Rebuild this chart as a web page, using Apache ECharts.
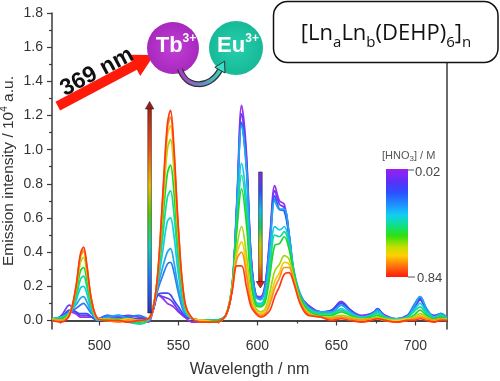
<!DOCTYPE html>
<html>
<head>
<meta charset="utf-8">
<script src="https://cdn.jsdelivr.net/npm/echarts@6/dist/echarts.min.js"></script>
<style>
  html, body { margin: 0; padding: 0; background: #fff; }
  #chart { width: 500px; height: 381px; }
</style>
</head>
<body>
<div id="chart"></div>
<script>
// wavelength grid (nm), shared by every spectrum
const wavelength = [470, 476, 481, 485, 488, 490, 492, 495, 499, 505, 512, 518, 525, 531, 534, 537, 540, 543, 545, 547,
  550, 554, 559, 566, 574, 580, 584, 587, 590, 593, 596, 599, 602, 605, 608, 611, 614, 617, 620, 623,
  627, 632, 640, 647, 653, 659, 666, 672, 676, 681, 688, 695, 699, 703, 707, 712, 716, 720];

// emission intensity / 10^4 a.u., from low [HNO3] (0.02 M) to high (0.84 M)
const s01 = [0.01, 0.02, 0.05, 0.04, 0.02, 0.02, 0.02, 0.02, 0.00, 0.01, 0.02, 0.01, 0.00, -0.01, 0.06, 0.15, 0.13, 0.10, 0.09, 0.08,
  0.05, 0.02, -0.01, -0.01, 0.00, 0.03, 0.19, 0.70, 1.26, 0.99, 0.38, 0.15, 0.14, 0.22, 0.51, 0.79, 0.70, 0.68, 0.51, 0.28,
  0.15, 0.09, 0.05, 0.06, 0.11, 0.06, 0.03, 0.04, 0.06, 0.03, 0.01, 0.03, 0.07, 0.12, 0.06, 0.02, 0.04, 0.01];
const s02 = [0.00, 0.03, 0.09, 0.05, 0.03, 0.03, 0.03, 0.02, 0.01, 0.03, 0.02, 0.03, 0.02, 0.01, 0.06, 0.15, 0.14, 0.13, 0.12, 0.10,
  0.06, 0.02, 0.01, 0.00, 0.00, 0.03, 0.19, 0.68, 1.21, 0.96, 0.37, 0.15, 0.13, 0.21, 0.49, 0.76, 0.68, 0.66, 0.50, 0.28,
  0.15, 0.09, 0.05, 0.06, 0.11, 0.06, 0.02, 0.04, 0.06, 0.02, 0.01, 0.02, 0.07, 0.12, 0.06, 0.03, 0.04, 0.01];
const s03 = [0.01, 0.02, 0.06, 0.05, 0.04, 0.04, 0.04, 0.02, 0.00, 0.02, 0.03, 0.02, 0.01, 0.01, 0.06, 0.15, 0.16, 0.16, 0.15, 0.12,
  0.08, 0.03, 0.01, 0.00, -0.01, 0.03, 0.19, 0.66, 1.16, 0.92, 0.36, 0.14, 0.13, 0.20, 0.47, 0.73, 0.65, 0.64, 0.49, 0.27,
  0.15, 0.08, 0.05, 0.06, 0.10, 0.06, 0.02, 0.03, 0.07, 0.02, 0.00, 0.02, 0.08, 0.13, 0.06, 0.02, 0.03, 0.01];
const s04 = [0.00, 0.01, 0.05, 0.07, 0.09, 0.10, 0.08, 0.04, 0.01, 0.03, 0.01, 0.02, 0.03, 0.01, 0.07, 0.18, 0.26, 0.33, 0.34, 0.29,
  0.16, 0.04, 0.01, 0.00, 0.00, 0.03, 0.20, 0.67, 1.15, 0.91, 0.35, 0.14, 0.13, 0.19, 0.45, 0.71, 0.65, 0.65, 0.51, 0.29,
  0.15, 0.08, 0.05, 0.05, 0.09, 0.05, 0.01, 0.04, 0.06, 0.01, 0.00, 0.03, 0.09, 0.14, 0.07, 0.02, 0.03, 0.02];
const s05 = [0.01, 0.02, 0.05, 0.09, 0.13, 0.14, 0.11, 0.05, 0.00, 0.02, 0.03, 0.01, 0.00, 0.00, 0.07, 0.20, 0.31, 0.40, 0.42, 0.35,
  0.19, 0.05, 0.01, 0.00, 0.00, 0.03, 0.21, 0.68, 1.14, 0.89, 0.34, 0.14, 0.12, 0.19, 0.45, 0.70, 0.65, 0.65, 0.51, 0.30,
  0.16, 0.08, 0.05, 0.05, 0.09, 0.05, 0.02, 0.03, 0.06, 0.02, 0.01, 0.02, 0.08, 0.14, 0.07, 0.02, 0.04, 0.02];
const s06 = [0.00, 0.01, 0.04, 0.11, 0.19, 0.20, 0.16, 0.06, 0.01, 0.00, 0.01, -0.01, -0.02, 0.00, 0.07, 0.22, 0.40, 0.58, 0.60, 0.51,
  0.27, 0.06, 0.01, 0.00, 0.00, 0.03, 0.20, 0.59, 0.92, 0.71, 0.27, 0.11, 0.10, 0.15, 0.35, 0.55, 0.53, 0.55, 0.45, 0.28,
  0.14, 0.07, 0.04, 0.04, 0.07, 0.04, 0.02, 0.03, 0.05, 0.02, 0.01, 0.02, 0.06, 0.10, 0.05, 0.02, 0.03, 0.01];
const s07 = [0.01, 0.02, 0.04, 0.13, 0.24, 0.26, 0.20, 0.08, 0.01, 0.01, 0.00, 0.00, -0.02, 0.00, 0.07, 0.24, 0.48, 0.72, 0.76, 0.64,
  0.34, 0.08, 0.01, 0.00, 0.00, 0.03, 0.20, 0.56, 0.85, 0.64, 0.25, 0.10, 0.09, 0.13, 0.31, 0.50, 0.49, 0.52, 0.44, 0.28,
  0.14, 0.07, 0.04, 0.04, 0.06, 0.03, 0.01, 0.03, 0.04, 0.02, 0.00, 0.02, 0.05, 0.08, 0.04, 0.01, 0.03, 0.01];
const s08 = [0.00, 0.01, 0.04, 0.15, 0.29, 0.31, 0.24, 0.09, 0.01, 0.00, 0.01, 0.00, -0.01, 0.01, 0.08, 0.26, 0.57, 0.86, 0.91, 0.77,
  0.41, 0.09, 0.01, 0.00, 0.00, 0.03, 0.21, 0.53, 0.77, 0.57, 0.22, 0.09, 0.08, 0.11, 0.27, 0.44, 0.45, 0.49, 0.42, 0.28,
  0.14, 0.06, 0.03, 0.03, 0.05, 0.03, 0.01, 0.02, 0.03, 0.01, 0.00, 0.01, 0.03, 0.06, 0.03, 0.01, 0.02, 0.01];
const s09 = [0.01, 0.00, 0.04, 0.17, 0.34, 0.37, 0.28, 0.11, 0.01, 0.01, 0.00, 0.01, 0.00, 0.01, 0.07, 0.27, 0.64, 1.00, 1.06, 0.90,
  0.47, 0.10, 0.01, 0.00, -0.01, 0.03, 0.19, 0.43, 0.55, 0.39, 0.15, 0.07, 0.05, 0.07, 0.17, 0.29, 0.33, 0.38, 0.36, 0.25,
  0.12, 0.05, 0.02, 0.02, 0.03, 0.02, 0.01, 0.01, 0.02, 0.01, 0.00, 0.01, 0.02, 0.04, 0.02, 0.00, 0.01, 0.01];
const s10 = [0.00, 0.00, 0.04, 0.18, 0.37, 0.40, 0.31, 0.12, 0.01, 0.00, 0.00, 0.01, 0.00, 0.01, 0.07, 0.28, 0.68, 1.08, 1.14, 0.97,
  0.51, 0.11, 0.01, 0.00, -0.01, 0.03, 0.19, 0.39, 0.46, 0.32, 0.12, 0.05, 0.04, 0.06, 0.13, 0.23, 0.28, 0.34, 0.33, 0.24,
  0.11, 0.04, 0.02, 0.01, 0.02, 0.01, 0.00, 0.01, 0.01, 0.00, 0.00, 0.01, 0.01, 0.03, 0.01, 0.00, 0.01, 0.00];
const s11 = [0.00, 0.00, 0.03, 0.18, 0.38, 0.41, 0.32, 0.12, 0.01, 0.00, -0.01, 0.00, 0.00, 0.01, 0.07, 0.28, 0.70, 1.12, 1.19, 1.01,
  0.53, 0.11, 0.01, -0.01, -0.01, 0.03, 0.18, 0.36, 0.40, 0.27, 0.10, 0.05, 0.03, 0.04, 0.10, 0.19, 0.25, 0.31, 0.31, 0.23,
  0.11, 0.04, 0.02, 0.01, 0.02, 0.01, 0.00, 0.01, 0.01, 0.00, -0.01, 0.00, 0.01, 0.02, 0.01, 0.00, 0.01, 0.00];
const s12 = [0.00, -0.01, 0.03, 0.19, 0.39, 0.43, 0.33, 0.12, 0.01, 0.00, 0.00, -0.01, 0.00, 0.01, 0.07, 0.28, 0.72, 1.15, 1.23, 1.04,
  0.54, 0.11, 0.01, -0.01, -0.01, 0.03, 0.17, 0.32, 0.32, 0.20, 0.08, 0.04, 0.02, 0.03, 0.06, 0.14, 0.20, 0.27, 0.28, 0.22,
  0.10, 0.03, 0.02, 0.00, 0.01, 0.00, -0.01, 0.00, 0.01, 0.00, -0.01, 0.00, 0.00, 0.01, 0.00, -0.01, 0.00, 0.00];
const spectra = [s01, s02, s03, s04, s05, s06, s07, s08, s09, s10, s11, s12];

const lineColors = ['#9a2ff0', '#6a3cf5', '#3a4cf8', '#2f78f0', '#22a4f0', '#14cce0',
  '#12dc9a', '#1ed62a', '#a2d810', '#f2cc0c', '#ff8c14', '#ff3a12'];

const xTicks = [500, 550, 600, 650, 700];
const xMinorTicks = [475, 525, 575, 625, 675];
const yTicks = [0, 0.2, 0.4, 0.6, 0.8, 1.0, 1.2, 1.4, 1.6, 1.8];
const yMinorTicks = [0.1, 0.3, 0.5, 0.7, 0.9, 1.1, 1.3, 1.5, 1.7];
const acidRange = ['0.02', '0.84'];

const chart = echarts.init(document.getElementById('chart'));
const font = 'Liberation Sans, Arial, sans-serif';
const axisColor = '#3a3a3a';

const series = spectra.map((vals, i) => ({
  type: 'line',
  data: wavelength.map((w, k) => [w, vals[k]]),
  smooth: 0.35,
  showSymbol: false,
  lineStyle: { color: lineColors[i], width: 1.7 },
  z: 2
}));

function grad(stops) {
  return new echarts.graphic.LinearGradient(0, 0, 0, 1,
    stops.map(s => ({ offset: s[0], color: s[1] })));
}

const graphics = [
  // 369 nm excitation arrow
  {
    type: 'polygon', z: 100,
    shape: { points: [[55.5, 101.7], [132.3, 60.9], [129.0, 54.7], [154, 55], [140.2, 75.9], [136.9, 69.7], [60.1, 110.5]] },
    style: { fill: '#ff1a0a' }
  },
  {
    type: 'text', z: 101, x: 97, y: 72, rotation: 0.49,
    style: { text: '369 nm', font: 'bold 23px ' + font, fill: '#111', align: 'center', verticalAlign: 'middle' }
  },
  // Tb and Eu circles
  {
    type: 'circle', z: 100, shape: { cx: 173, cy: 48, r: 26 },
    style: { fill: new echarts.graphic.RadialGradient(0.5, 0.5, 0.6, [{ offset: 0, color: '#c13fd6' }, { offset: 1, color: '#a324b8' }]) }
  },
  {
    type: 'text', z: 101, x: 176, y: 46,
    style: {
      text: '{b|Tb}{p|3+}', align: 'center', verticalAlign: 'middle',
      rich: {
        b: { font: 'bold 22px ' + font, fill: '#fff', lineHeight: 26 },
        p: { font: 'bold 12px ' + font, fill: '#fff', verticalAlign: 'top', lineHeight: 12 }
      }
    }
  },
  {
    type: 'circle', z: 100, shape: { cx: 236, cy: 48, r: 27 },
    style: { fill: new echarts.graphic.RadialGradient(0.5, 0.5, 0.6, [{ offset: 0, color: '#27cfae' }, { offset: 1, color: '#14b592' }]) }
  },
  {
    type: 'text', z: 101, x: 238, y: 46,
    style: {
      text: '{b|Eu}{p|3+}', align: 'center', verticalAlign: 'middle',
      rich: {
        b: { font: 'bold 22px ' + font, fill: '#fff', lineHeight: 26 },
        p: { font: 'bold 12px ' + font, fill: '#fff', verticalAlign: 'top', lineHeight: 12 }
      }
    }
  },
  // energy transfer arrow
  {
    type: 'bezierCurve', z: 100,
    shape: { x1: 180, y1: 69, cpx1: 186, cpy1: 89, cpx2: 210, cpy2: 89, x2: 220, y2: 70 },
    style: { stroke: '#333', lineWidth: 6, fill: null }
  },
  {
    type: 'bezierCurve', z: 101,
    shape: { x1: 180, y1: 69, cpx1: 186, cpy1: 89, cpx2: 210, cpy2: 89, x2: 220, y2: 70 },
    style: {
      stroke: new echarts.graphic.LinearGradient(0, 0, 1, 0, [{ offset: 0, color: '#b030c8' }, { offset: 1, color: '#30d8c0' }]),
      lineWidth: 3.5, fill: null
    }
  },
  {
    type: 'polygon', z: 102,
    shape: { points: [[214.8, 67.3], [224.6, 61.2], [225, 73]] },
    style: { fill: '#38e0c8', stroke: '#333', lineWidth: 1 }
  },
  // formula box
  {
    type: 'rect', z: 100, shape: { x: 273.5, y: 1.5, width: 224.5, height: 61, r: 14 },
    style: { fill: '#fff', stroke: '#111', lineWidth: 1.5 }
  },
  {
    type: 'text', z: 101, x: 386, y: 34,
    style: {
      text: '{m|[Ln}{s|a}{m|Ln}{s|b}{m|(DEHP)}{s|6}{m|]}{s|n}', align: 'center', verticalAlign: 'middle',
      rich: {
        m: { font: '22px Open Sans, Noto Sans, sans-serif', fill: '#111', lineHeight: 32 },
        s: { font: '15px Open Sans, Noto Sans, sans-serif', fill: '#111', lineHeight: 15, verticalAlign: 'bottom' }
      }
    }
  },
  // colour bar for [HNO3]
  {
    type: 'rect', z: 100, shape: { x: 386, y: 169, width: 22, height: 108 },
    style: {
      fill: grad([[0, '#9a20f0'], [0.12, '#5a30f8'], [0.22, '#2a50ff'], [0.33, '#2090ff'], [0.43, '#10d0f0'],
        [0.53, '#10e080'], [0.62, '#30e010'], [0.72, '#c0e000'], [0.8, '#ffd000'], [0.9, '#ff7010'], [1, '#ff1a0a']])
    }
  },
  { type: 'line', z: 100, shape: { x1: 408, y1: 170, x2: 414, y2: 170 }, style: { stroke: '#555', lineWidth: 1 } },
  { type: 'line', z: 100, shape: { x1: 408, y1: 277, x2: 415, y2: 277 }, style: { stroke: '#555', lineWidth: 1 } },
  {
    type: 'text', z: 101, x: 382, y: 156,
    style: {
      text: '{m|[HNO}{s|3}{m|] / M}', align: 'left', verticalAlign: 'middle',
      rich: {
        m: { font: '11px ' + font, fill: '#555', lineHeight: 14 },
        s: { font: '8px ' + font, fill: '#555', lineHeight: 8, verticalAlign: 'bottom' }
      }
    }
  },
  {
    type: 'text', z: 101, x: 415, y: 172,
    style: { text: acidRange[0], font: '13px ' + font, fill: '#444', align: 'left', verticalAlign: 'middle' }
  },
  {
    type: 'text', z: 101, x: 417, y: 278,
    style: { text: acidRange[1], font: '13px ' + font, fill: '#444', align: 'left', verticalAlign: 'middle' }
  },
  // trend arrow for Tb3+ emission (up)
  {
    type: 'rect', z: 100, shape: { x: 147.8, y: 108, width: 3.6, height: 205 },
    style: {
      fill: grad([[0, '#b02010'], [0.2, '#f05010'], [0.38, '#f0c000'], [0.52, '#50d000'], [0.68, '#10d0c0'], [0.84, '#2070ff'], [1, '#3030c0']]),
      stroke: '#222', lineWidth: 0.6
    }
  },
  {
    type: 'polygon', z: 101, shape: { points: [[145.4, 109], [149.6, 101.5], [153.8, 109]] },
    style: { fill: '#a01a10', stroke: '#222', lineWidth: 0.6 }
  },
  // trend arrow for Eu3+ emission (down)
  {
    type: 'rect', z: 100, shape: { x: 258.6, y: 172, width: 3.6, height: 110 },
    style: {
      fill: grad([[0, '#8a2be2'], [0.18, '#3050ff'], [0.35, '#10c0f0'], [0.5, '#10d060'], [0.65, '#c0d000'], [0.82, '#f0a000'], [1, '#e02010']]),
      stroke: '#222', lineWidth: 0.6
    }
  },
  {
    type: 'polygon', z: 101, shape: { points: [[256.2, 281.5], [260.4, 288], [264.6, 281.5]] },
    style: { fill: '#e02010', stroke: '#222', lineWidth: 0.6 }
  }
];

chart.setOption({
  animation: false,
  backgroundColor: '#fff',
  textStyle: { fontFamily: font },
  grid: { left: 52, right: 53, top: 13, bottom: 52, containLabel: false, outerBoundsMode: 'none' },
  xAxis: [
    {
      type: 'value', min: 470, max: 720, position: 'bottom',
      name: 'Wavelength / nm', nameLocation: 'middle', nameGap: 33, nameMoveOverlap: false,
      nameTextStyle: { fontSize: 16, color: '#333', fontFamily: font },
      axisLine: { show: true, lineStyle: { color: axisColor, width: 1.5 } },
      axisTick: { show: true, customValues: xTicks, length: 5, lineStyle: { color: axisColor, width: 1.2 } },
      axisLabel: { customValues: xTicks, color: '#333', fontSize: 14, margin: 10, fontFamily: font },
      splitLine: { show: false }
    },
    {
      type: 'value', min: 470, max: 720, position: 'bottom',
      axisLine: { show: false },
      axisTick: { show: true, customValues: xMinorTicks, length: 3, lineStyle: { color: axisColor, width: 1.2 } },
      axisLabel: { show: false },
      splitLine: { show: false }
    },
    {
      type: 'value', min: 470, max: 720, position: 'top',
      axisLine: { show: true, lineStyle: { color: axisColor, width: 1.5 } },
      axisTick: { show: false }, axisLabel: { show: false }, splitLine: { show: false }
    }
  ],
  yAxis: [
    {
      type: 'value', min: -0.05, max: 1.8, position: 'left',
      name: '{n|Emission intensity / 10}{s|4}{n| a.u.}', nameLocation: 'middle', nameGap: 33, nameMoveOverlap: false,
      nameTextStyle: {
        rich: {
          n: { fontSize: 15.5, color: '#333', fontFamily: font, lineHeight: 20 },
          s: { fontSize: 10, color: '#333', fontFamily: font, lineHeight: 10, verticalAlign: 'top' }
        }
      },
      axisLine: { show: true, lineStyle: { color: axisColor, width: 1.5 } },
      axisTick: { show: true, customValues: yTicks, length: 5, lineStyle: { color: axisColor, width: 1.2 } },
      axisLabel: { customValues: yTicks, color: '#333', fontSize: 14, margin: 9, fontFamily: font, formatter: v => v.toFixed(1) },
      splitLine: { show: false }
    },
    {
      type: 'value', min: -0.05, max: 1.8, position: 'left',
      axisLine: { show: false },
      axisTick: { show: true, customValues: yMinorTicks, length: 3, lineStyle: { color: axisColor, width: 1.2 } },
      axisLabel: { show: false },
      splitLine: { show: false }
    },
    {
      type: 'value', min: -0.05, max: 1.8, position: 'right',
      axisLine: { show: true, lineStyle: { color: axisColor, width: 1.5 } },
      axisTick: { show: false }, axisLabel: { show: false }, splitLine: { show: false }
    }
  ],
  series: series,
  graphic: graphics
});
</script>
</body>
</html>
